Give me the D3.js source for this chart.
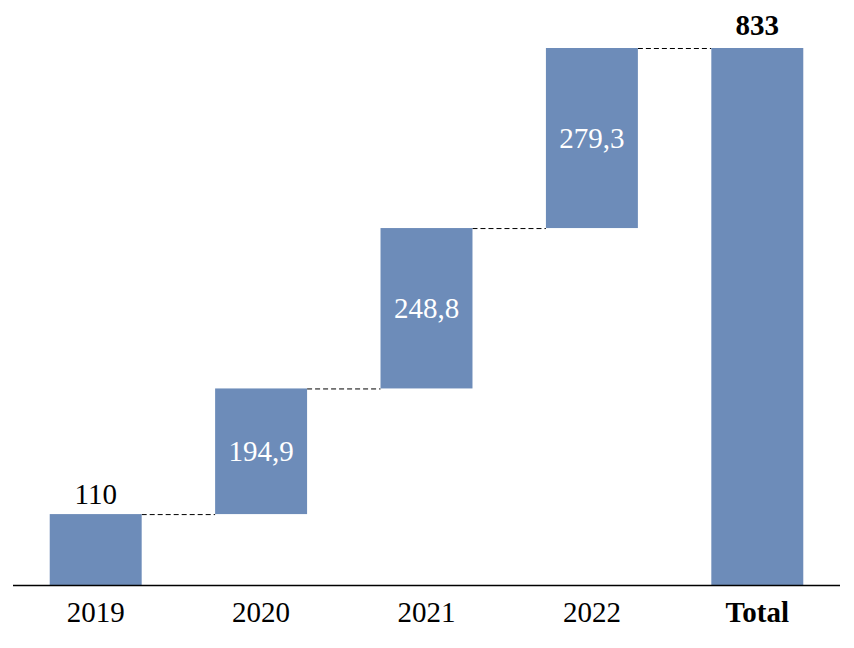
<!DOCTYPE html>
<html><head><meta charset="utf-8">
<script src="https://cdn.jsdelivr.net/npm/d3@7/dist/d3.min.js"></script>
<style>body{margin:0;background:#fff}</style>
</head><body>
<svg id="c" width="854" height="648"></svg>
<script>
const categories = ["2019","2020","2021","2022","Total"];
const values = [110, 194.9, 248.8, 279.3, 833];
const labels = ["110","194,9","248,8","279,3","833"];

const svg = d3.select("#c");
const x0=13,x1=840,yBase=585,yTop=48;
const x = d3.scaleBand().domain(categories).range([x0,x1]).paddingInner(0.444).paddingOuter(0.222);
const y = d3.scaleLinear().domain([0,833]).range([yBase,yTop]);
const color="#6d8cb9";
const font="'Liberation Serif', serif";
const fs=29;

let cum=0;
const data = categories.map((c,i)=>{
  let start,end;
  if(c==="Total"){start=0;end=values[i];}
  else{start=cum;end=cum+values[i];cum=end;}
  return {c,start,end,label:labels[i],i};
});

for(let i=0;i<data.length-1;i++){
  const d=data[i], n=data[i+1];
  svg.append("line")
    .attr("x1",x(d.c)+x.bandwidth()).attr("x2",x(n.c))
    .attr("y1",y(d.end)+0.5).attr("y2",y(d.end)+0.5)
    .attr("stroke","#000").attr("stroke-width",1).attr("stroke-dasharray","5,3");
}

svg.selectAll("rect.bar").data(data).join("rect")
  .attr("class","bar")
  .attr("x",d=>x(d.c)).attr("width",x.bandwidth())
  .attr("y",d=>y(d.end)).attr("height",d=>y(d.start)-y(d.end))
  .attr("fill",color);

const axis = d3.axisBottom(x).tickSize(0).tickPadding(16);
const g = svg.append("g").attr("transform",`translate(0,${yBase})`).call(axis);
g.select(".domain").attr("stroke","#000").attr("stroke-width",1.3).attr("d",`M${x0},0.5H${x1}`);
g.selectAll("text").attr("font-family",font).attr("font-size",fs).attr("fill","#000")
  .attr("font-weight",d=>d==="Total"?"bold":"normal");

data.forEach(d=>{
  const cx=x(d.c)+x.bandwidth()/2;
  if(d.i===0||d.c==="Total"){
    svg.append("text").attr("x",cx).attr("y",y(d.end)-(d.c==="Total"?13:10))
      .attr("text-anchor","middle").attr("font-family",font).attr("font-size",fs)
      .attr("font-weight",d.c==="Total"?"bold":"normal").attr("fill","#000").text(d.label);
  } else {
    svg.append("text").attr("x",cx).attr("y",(y(d.start)+y(d.end))/2)
      .attr("dy","0.35em")
      .attr("text-anchor","middle").attr("font-family",font).attr("font-size",fs)
      .attr("fill","#fff").text(d.label);
  }
});
</script>
</body></html>
